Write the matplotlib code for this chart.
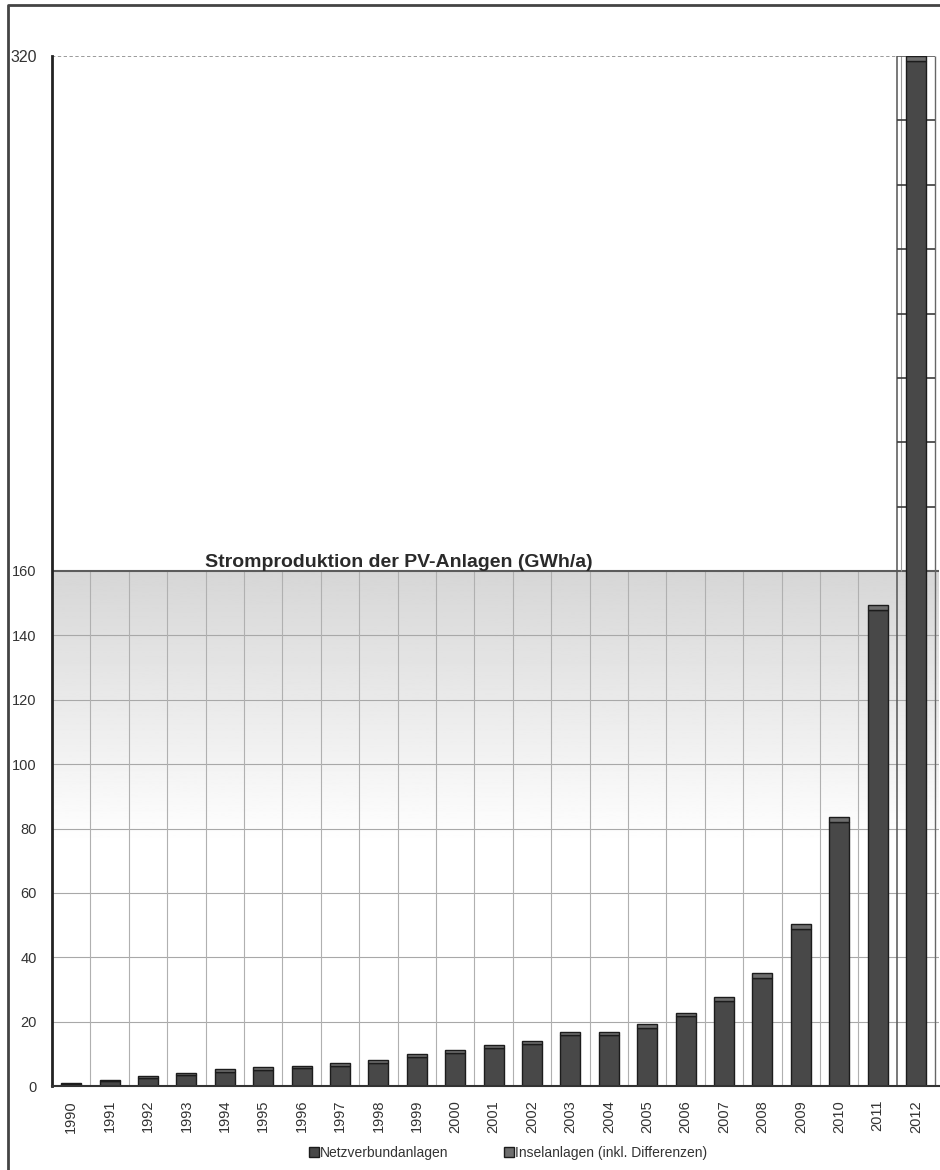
import numpy as np
import matplotlib.pyplot as plt
from matplotlib.lines import Line2D

plt.rcParams['font.family'] = ['Liberation Sans', 'DejaVu Sans']

# Annual PV electricity production (GWh/a)
years = [str(y) for y in range(1990, 2013)]
netzverbund = [0.7, 1.5, 2.5, 3.5, 4.5, 5.1, 5.5, 6.3, 7.3, 8.9, 10.3,
               11.7, 12.9, 15.7, 15.7, 18.1, 21.6, 26.3, 33.7, 48.9, 82.1,
               148.0, 318.4]
insel = [0.3, 0.4, 0.5, 0.6, 0.7, 0.8, 0.8, 0.9, 0.9, 1.0, 1.0,
         1.0, 1.1, 1.1, 1.1, 1.2, 1.2, 1.3, 1.3, 1.4, 1.4,
         1.5, 1.6]
y_ticks = [0, 20, 40, 60, 80, 100, 120, 140, 160, 320]
title = "Stromproduktion der PV-Anlagen (GWh/a)"
legend_labels = ["Netzverbundanlagen", "Inselanlagen (inkl. Differenzen)"]

W, H = 940, 1170
fig = plt.figure(figsize=(W / 100, H / 100), dpi=100)
fig.patch.set_facecolor('white')

ax = fig.add_axes([52 / W, (H - 1086) / H, (939 - 52) / W, (1086 - 56) / H])
x = np.arange(len(years))
xl, xr = -0.5, 22.6
ax.set_xlim(xl, xr)
ax.set_ylim(0, 320)
ax.set_facecolor('white')

# shaded band of the lower panel, fading to white
yy = np.linspace(0, 160, 400)
shade = np.where(yy < 75, 1.0, 1.0 - (yy - 75) / 85 * 0.16)
ax.imshow(shade[:, None], extent=(xl, xr, 0, 160), origin='lower',
          aspect='auto', cmap='gray', vmin=0, vmax=1, zorder=0)

# grid of the lower panel
for v in range(20, 160, 20):
    ax.hlines(v, xl, xr, color='#a8a8a8', lw=0.8, zorder=1)
ax.hlines(160, xl, xr, color='#5c5c5c', lw=1.5, zorder=2)
for b in np.arange(0.5, 21.5, 1.0):
    ax.vlines(b, 0, 160, color='#b0b0b0', lw=0.8, zorder=1)

# separate column for the last year
ax.vlines(21.5, 0, 320, color='#555555', lw=1.1, zorder=2)
ax.vlines(21.62, 160, 320, color='#9a9a9a', lw=0.8, zorder=2)
ax.vlines(22.5, 0, 320, color='#666666', lw=1.0, zorder=2)
for v in range(180, 320, 20):
    ax.hlines(v, 21.5, 22.5, color='#3c3c3c', lw=1.2, zorder=2)
ax.hlines(320, xl, 21.5, color='#8a8a8a', lw=1.2, linestyles=(0, (2, 1.5)), zorder=2)
ax.hlines(320, 21.5, 22.5, color='#555555', lw=1.2, zorder=2)

# stacked bars
b1 = ax.bar(x, netzverbund, width=0.52, color='#484848', edgecolor='#1c1c1c',
            lw=1.0, zorder=3, label=legend_labels[0])
b2 = ax.bar(x, insel, width=0.52, bottom=netzverbund, color='#6e6e6e',
            edgecolor='#1c1c1c', lw=1.0, zorder=3, label=legend_labels[1])

for s in ['top', 'right']:
    ax.spines[s].set_visible(False)
ax.spines['left'].set_color('#222222')
ax.spines['left'].set_linewidth(2.0)
ax.spines['bottom'].set_color('#333333')
ax.spines['bottom'].set_linewidth(1.5)
ax.spines['left'].set_zorder(4)
ax.spines['bottom'].set_zorder(4)

ax.set_yticks(y_ticks)
ax.set_yticklabels([str(v) for v in y_ticks])
ax.set_xticks(x)
ax.set_xticklabels(years, rotation=90)
ax.tick_params(axis='y', length=0, pad=11, labelsize=10.5, labelcolor='#333333')
ax.tick_params(axis='x', length=0, pad=10, labelsize=10.5, labelcolor='#333333')
ax.get_yticklabels()[-1].set_fontsize(11.5)

fig.text(205 / W, 1 - 567 / H, title, fontsize=14, fontweight='bold',
         color='#2a2a2a', ha='left', va='baseline')

fig.legend([b1, b2], legend_labels, loc='center', bbox_to_anchor=(508 / W, 1 - 1153 / H),
           ncol=2, frameon=False, fontsize=10, handlelength=0.7, handleheight=0.7,
           handletextpad=0.1, columnspacing=4.0, labelcolor='#333333')

# outer frame
fig.add_artist(Line2D([8 / W, 8 / W, 1.0], [0.0, 1 - 5 / H, 1 - 5 / H],
                      transform=fig.transFigure, color='#444444', lw=2.0))

fig.savefig('out.png', dpi=100, facecolor='white')
